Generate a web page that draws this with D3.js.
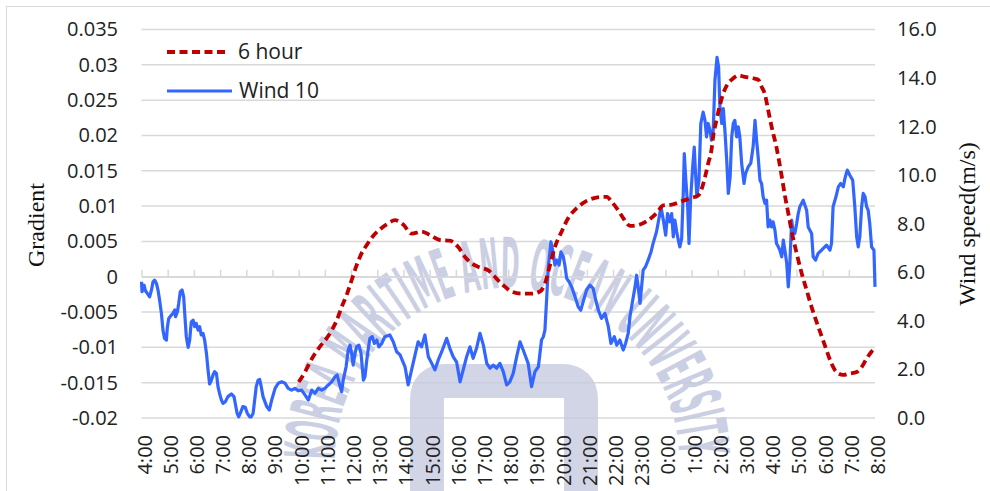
<!DOCTYPE html>
<html><head><meta charset="utf-8">
<script src="https://cdn.jsdelivr.net/npm/d3@7"></script>
<style>body{margin:0;background:#fff;overflow:hidden}</style>
</head><body><svg id="c" width="990" height="491"></svg>
<script>
const xTickLabels = ["4:00","5:00","6:00","7:00","8:00","9:00","10:00","11:00","12:00","13:00","14:00","15:00","16:00","17:00","18:00","19:00","20:00","21:00","22:00","23:00","0:00","1:00","2:00","3:00","4:00","5:00","6:00","7:00","8:00"];
const leftTicks = [-0.02,-0.015,-0.01,-0.005,0,0.005,0.01,0.015,0.02,0.025,0.03,0.035];
const leftTickLabels = ["-0.02","-0.015","-0.01","-0.005","0","0.005","0.01","0.015","0.02","0.025","0.03","0.035"];
const rightTicks = [0,2,4,6,8,10,12,14,16];
const rightTickLabels = ["0.0","2.0","4.0","6.0","8.0","10.0","12.0","14.0","16.0"];
const seriesNames = ["6 hour","Wind 10"];
const axisTitles = ["Gradient","Wind speed(m/s)"];
// hours after 4:00
const windHours = [0.00,0.02,0.10,0.15,0.22,0.31,0.38,0.44,0.50,0.57,0.63,0.69,0.76,0.82,0.88,0.95,0.99,1.04,1.14,1.20,1.27,1.30,1.37,1.42,1.48,1.55,1.61,1.65,1.71,1.78,1.84,1.90,1.97,2.03,2.09,2.16,2.22,2.28,2.35,2.41,2.48,2.54,2.60,2.67,2.73,2.79,2.86,2.92,2.98,3.05,3.11,3.20,3.30,3.43,3.53,3.58,3.65,3.71,3.77,3.87,3.96,4.04,4.13,4.19,4.26,4.32,4.38,4.45,4.51,4.57,4.64,4.78,4.88,4.97,5.10,5.22,5.35,5.48,5.60,5.73,5.86,5.98,6.11,6.24,6.37,6.50,6.62,6.75,6.88,7.00,7.13,7.26,7.39,7.47,7.55,7.64,7.70,7.81,7.89,7.96,8.02,8.08,8.15,8.21,8.30,8.38,8.47,8.53,8.60,8.66,8.72,8.81,8.89,8.98,9.06,9.17,9.29,9.48,9.61,9.74,9.87,10.06,10.18,10.31,10.44,10.56,10.69,10.82,10.95,11.08,11.20,11.33,11.46,11.65,11.77,11.90,12.03,12.16,12.28,12.41,12.54,12.66,12.79,12.92,13.05,13.18,13.30,13.43,13.56,13.68,13.81,13.94,14.06,14.19,14.32,14.45,14.57,14.76,14.89,15.02,15.15,15.27,15.34,15.40,15.47,15.53,15.63,15.72,15.78,15.85,15.94,16.01,16.10,16.16,16.23,16.32,16.42,16.55,16.67,16.77,16.86,16.99,17.12,17.24,17.34,17.44,17.56,17.69,17.82,17.92,18.05,18.14,18.26,18.39,18.48,18.58,18.65,18.73,18.84,18.90,18.96,19.03,19.09,19.15,19.24,19.34,19.45,19.53,19.66,19.73,19.83,19.92,20.01,20.08,20.17,20.24,20.30,20.36,20.43,20.49,20.55,20.62,20.68,20.72,20.78,20.85,20.90,20.96,21.04,21.10,21.15,21.20,21.28,21.35,21.44,21.51,21.57,21.63,21.70,21.76,21.82,21.89,21.97,22.03,22.08,22.15,22.21,22.27,22.34,22.40,22.47,22.53,22.59,22.65,22.72,22.78,22.84,22.91,23.00,23.06,23.16,23.26,23.35,23.42,23.48,23.54,23.61,23.67,23.73,23.80,23.86,23.92,23.99,24.05,24.11,24.18,24.24,24.31,24.37,24.44,24.50,24.56,24.63,24.69,24.75,24.82,24.88,24.94,25.01,25.07,25.13,25.26,25.39,25.45,25.58,25.64,25.73,25.83,25.96,26.15,26.28,26.34,26.40,26.51,26.60,26.69,26.79,26.85,26.94,27.04,27.15,27.23,27.30,27.36,27.42,27.49,27.55,27.62,27.68,27.74,27.80,27.87,27.96,28.00];
const windSpeed = [5.61,5.20,5.47,5.24,5.13,4.99,5.27,5.61,5.68,5.54,5.27,4.86,4.31,3.62,3.28,3.21,3.76,4.10,4.24,4.31,4.45,4.17,4.38,4.72,5.20,5.27,4.99,4.31,3.35,2.91,3.21,3.96,4.03,3.76,3.90,3.62,3.76,3.42,3.48,3.21,2.66,1.98,1.40,1.56,1.77,1.91,1.84,1.29,1.01,0.74,0.60,0.67,0.88,0.99,0.88,0.60,0.19,0.05,0.19,0.47,0.44,0.19,0.05,0.05,0.19,0.74,1.29,1.56,1.59,1.29,0.88,0.47,0.33,0.74,1.22,1.43,1.49,1.43,1.22,1.15,1.22,1.12,1.15,0.95,0.74,1.15,1.02,1.22,1.15,1.22,1.36,1.49,1.70,1.77,1.43,1.08,1.56,2.11,2.80,3.00,2.66,2.18,2.66,2.93,3.00,2.66,1.56,1.70,2.39,2.87,3.28,3.35,3.07,3.21,2.93,3.07,3.35,3.42,3.14,2.73,2.60,2.11,1.36,1.98,2.59,3.14,2.93,3.42,2.52,2.25,1.98,2.39,2.73,3.28,2.87,2.52,2.30,1.49,1.98,2.52,2.93,2.46,2.87,3.49,3.00,2.25,2.05,2.18,2.05,2.25,1.91,1.36,1.49,1.84,2.52,3.14,2.80,2.25,1.29,1.91,2.11,3.21,3.35,3.62,4.99,6.23,7.26,6.78,6.30,6.50,6.30,6.84,6.64,6.30,5.75,5.61,5.40,4.99,4.58,4.44,4.79,5.27,5.47,5.34,4.86,4.44,4.10,4.31,3.76,3.07,3.35,3.00,3.21,2.80,3.07,3.49,4.20,4.72,5.40,5.88,5.40,4.72,5.40,6.09,6.23,6.50,6.84,7.19,7.67,8.08,8.70,8.15,7.53,8.42,8.08,8.42,7.46,8.15,7.67,7.33,7.05,7.39,9.25,10.89,9.79,8.70,7.19,8.97,10.34,11.16,10.07,9.11,9.79,12.13,12.60,12.26,11.58,12.13,11.85,11.44,11.71,13.91,14.85,14.46,12.81,12.13,12.74,11.85,10.62,9.25,9.92,11.58,12.13,12.26,11.58,11.99,11.58,10.48,9.66,10.07,10.34,10.50,11.20,12.26,11.44,10.75,9.79,9.66,9.11,8.84,8.97,7.87,8.15,7.87,8.08,7.74,7.19,7.05,6.91,6.64,7.33,6.91,6.37,5.40,6.37,8.15,7.60,7.60,8.01,8.42,8.70,8.97,8.56,7.87,7.60,6.64,6.50,6.78,6.91,7.12,6.91,7.19,8.70,9.11,9.52,9.66,9.52,9.86,10.21,10.00,9.79,8.70,7.46,7.05,7.46,8.70,9.25,9.11,8.70,8.56,8.01,7.05,6.91,5.40];
const gradHours = [6.00,6.24,6.43,6.62,6.81,7.07,7.26,7.45,7.64,7.83,8.02,8.21,8.40,8.60,8.85,9.10,9.36,9.68,9.99,10.31,10.69,11.01,11.39,11.77,12.09,12.35,12.60,12.92,13.24,13.56,13.87,14.13,14.51,14.89,15.21,15.40,15.59,15.78,16.04,16.29,16.61,16.93,17.24,17.56,17.76,17.95,18.20,18.39,18.65,19.03,19.34,19.66,19.92,20.24,20.55,20.93,21.25,21.38,21.51,21.63,21.76,21.82,21.95,22.08,22.21,22.40,22.59,22.77,23.03,23.35,23.54,23.67,23.80,23.90,24.05,24.24,24.44,24.56,24.69,24.82,25.01,25.20,25.39,25.58,25.77,25.97,26.15,26.34,26.53,26.79,27.04,27.30,27.49,27.68,27.87,28.00];
const gradValues = [-0.0149,-0.0135,-0.0121,-0.0109,-0.0099,-0.0087,-0.0076,-0.0062,-0.0043,-0.0026,-0.0005,0.0016,0.0033,0.0045,0.0058,0.0067,0.0074,0.0080,0.0074,0.0061,0.0064,0.0059,0.0052,0.0051,0.0042,0.0028,0.0019,0.0013,0.0009,-0.0003,-0.0014,-0.0021,-0.0024,-0.0024,-0.0021,-0.0010,0.0016,0.0042,0.0064,0.0083,0.0097,0.0106,0.0111,0.0113,0.0113,0.0106,0.0094,0.0083,0.0072,0.0074,0.0080,0.0090,0.0101,0.0102,0.0106,0.0111,0.0115,0.0124,0.0141,0.0160,0.0180,0.0198,0.0222,0.0243,0.0260,0.0274,0.0281,0.0285,0.0283,0.0281,0.0279,0.0269,0.0258,0.0240,0.0213,0.0183,0.0142,0.0115,0.0090,0.0064,0.0033,0.0005,-0.0019,-0.0043,-0.0064,-0.0085,-0.0104,-0.0123,-0.0135,-0.0139,-0.0137,-0.0135,-0.0128,-0.0116,-0.0106,-0.0102];
const watermarkText = "KOREA MARITIME AND OCEAN UNIVERSITY";

const svg = d3.select("#c");
const FONT = "'Open Sans', 'Noto Sans', sans-serif";
const SERIF = "'Liberation Serif', 'Times New Roman', serif";
const x = d3.scaleLinear().domain([0, 28]).range([141.5, 875]);
const yL = d3.scaleLinear().domain([-0.02, 0.035]).range([418, 29.5]);
const yR = d3.scaleLinear().domain([0, 16]).range([418, 29.5]);

// chart border
svg.append("rect").attr("x", 6.5).attr("y", 6.5).attr("width", 1000).attr("height", 1000)
  .attr("fill", "none").attr("stroke", "#d9d9d9").attr("stroke-width", 1);

// gridlines
svg.append("g").selectAll("line").data(leftTicks).join("line")
  .attr("x1", x(0)).attr("x2", x(28))
  .attr("y1", d => yL(d)).attr("y2", d => yL(d))
  .attr("stroke", "#d9d9d9").attr("stroke-width", 1.5);

// watermark (faint seal behind the data)
const WM = "#c6cae0";
const cx = 507, cy = 460, r = 172, a = 0;
const sx = cx - r * Math.cos(a), sy = cy + r * Math.sin(a), ex = cx + r * Math.cos(a);
svg.append("defs").append("path").attr("id", "wm")
  .attr("d", `M${sx},${sy} A${r},${r} 0 1 1 ${ex},${sy}`);
svg.append("path").attr("d", "M427,491 V400 Q427,381 446,381 H562 Q581,381 581,400 V491")
  .attr("fill", "none").attr("stroke", WM).attr("stroke-width", 34).attr("opacity", 0.8);
svg.append("text").attr("fill", WM).attr("opacity", 0.9).attr("font-family", "'DejaVu Sans Condensed', 'DejaVu Sans', sans-serif")
  .attr("font-weight", "bold").attr("font-size", 70)
  .append("textPath").attr("href", "#wm").attr("textLength", r * (Math.PI + 2 * a) - 4)
  .attr("lengthAdjust", "spacingAndGlyphs").text(watermarkText);

// left axis
const gL = svg.append("g").attr("transform", `translate(${x(0)},0)`)
  .call(d3.axisLeft(yL).tickValues(leftTicks).tickFormat((d, i) => leftTickLabels[i]).tickSize(0).tickPadding(23.5));
gL.select(".domain").remove();
gL.selectAll("text").attr("font-family", FONT).attr("font-size", 20).attr("fill", "#222");

// right axis
const gR = svg.append("g").attr("transform", `translate(${x(28)},0)`)
  .call(d3.axisRight(yR).tickValues(rightTicks).tickFormat((d, i) => rightTickLabels[i]).tickSize(0).tickPadding(22));
gR.select(".domain").remove();
gR.selectAll("text").attr("font-family", FONT).attr("font-size", 20).attr("fill", "#222");

// x axis at gradient 0
const y0 = yL(0);
const gX = svg.append("g").attr("transform", `translate(0,${y0})`)
  .call(d3.axisBottom(x).tickValues(d3.range(0, 29)).tickFormat((d, i) => xTickLabels[i]).tickSizeInner(-7).tickSizeOuter(0));
gX.select(".domain").attr("stroke", "#d9d9d9").attr("stroke-width", 1.5);
gX.selectAll(".tick line").attr("stroke", "#d9d9d9").attr("stroke-width", 1.5);
gX.selectAll("text").attr("font-family", FONT).attr("font-size", 20).attr("fill", "#222")
  .attr("y", 0).attr("dy", "0.35em").attr("text-anchor", "end")
  .attr("transform", `translate(2.5,${435 - y0}) rotate(-90)`);

// series
const windData = windHours.map((h, i) => [h, windSpeed[i]]);
const gradData = gradHours.map((h, i) => [h, gradValues[i]]);
svg.append("path").datum(windData)
  .attr("d", d3.line().x(d => x(d[0])).y(d => yR(d[1])))
  .attr("fill", "none").attr("stroke", "#3366ff").attr("stroke-width", 3.2).attr("stroke-linejoin", "round");
svg.append("path").datum(gradData)
  .attr("d", d3.line().curve(d3.curveMonotoneX).x(d => x(d[0])).y(d => yL(d[1])))
  .attr("fill", "none").attr("stroke", "#c00000").attr("stroke-width", 3.8).attr("stroke-dasharray", "8,4.5");

// legend
const lg = svg.append("g");
lg.append("line").attr("x1", 167).attr("x2", 227).attr("y1", 52).attr("y2", 52)
  .attr("stroke", "#c00000").attr("stroke-width", 3.8).attr("stroke-dasharray", "8,4.5");
lg.append("line").attr("x1", 167).attr("x2", 232).attr("y1", 91).attr("y2", 91)
  .attr("stroke", "#3366ff").attr("stroke-width", 3.2);
lg.append("text").attr("x", 238).attr("y", 52).attr("dy", "0.35em").text(seriesNames[0])
  .attr("font-family", FONT).attr("font-size", 21).attr("fill", "#222");
lg.append("text").attr("x", 239).attr("y", 91).attr("dy", "0.35em").text(seriesNames[1])
  .attr("font-family", FONT).attr("font-size", 21).attr("fill", "#222");

// axis titles
svg.append("text").attr("transform", "translate(36,225) rotate(-90)").attr("text-anchor", "middle")
  .attr("dy", "0.35em").attr("font-family", SERIF).attr("font-size", 24).attr("fill", "#111").text(axisTitles[0]);
svg.append("text").attr("transform", "translate(967,224) rotate(-90)").attr("text-anchor", "middle")
  .attr("dy", "0.35em").attr("font-family", SERIF).attr("font-size", 24).attr("fill", "#111").text(axisTitles[1]);
</script>
</body></html>
